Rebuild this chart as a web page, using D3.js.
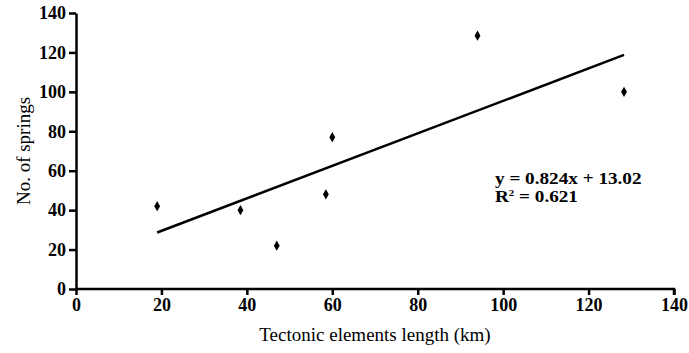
<!DOCTYPE html>
<html>
<head>
<meta charset="utf-8">
<script src="https://cdn.jsdelivr.net/npm/d3@7"></script>
<style>
  body { margin: 0; background: #fff; }
  svg { display: block; }
  .tick text { font-family: "Liberation Serif", serif; font-weight: bold; font-size: 18px; }
</style>
</head>
<body>
<svg id="chart" width="689" height="353"></svg>
<script>
// values
const lengthKm = [19, 38.5, 47, 58.5, 60, 94, 128.3];
const springs  = [42, 40, 22, 48, 77, 128.5, 100];
const xTicks = [0, 20, 40, 60, 80, 100, 120, 140];
const yTicks = [0, 20, 40, 60, 80, 100, 120, 140];
const slope = 0.824, intercept = 13.02;
const eqLines = ["y = 0.824x + 13.02", "R² = 0.621"];

const svg = d3.select('#chart');
const margin = { left: 76, top: 13, right: 15, bottom: 64 };
const width = 689, height = 353;

const x = d3.scaleLinear().domain([0, 140]).range([margin.left, width - margin.right]);
const y = d3.scaleLinear().domain([0, 140]).range([height - margin.bottom, margin.top]);

const xAxis = svg.append('g')
    .attr('transform', `translate(0,${y(0)})`)
    .call(d3.axisBottom(x).tickValues(xTicks).tickSize(6).tickPadding(3).tickSizeOuter(6));
const yAxis = svg.append('g')
    .attr('transform', `translate(${x(0)},0)`)
    .call(d3.axisLeft(y).tickValues(yTicks).tickSize(7).tickPadding(3).tickSizeOuter(0));

for (let ax of [xAxis, yAxis]) {
    ax.select('.domain').attr('stroke', '#000').attr('stroke-width', 2.5);
    ax.selectAll('.tick line').attr('stroke', '#000').attr('stroke-width', 2.5);
    ax.selectAll('.tick text').attr('fill', '#000');
}
xAxis.select('.domain').attr('d', `M${x(0)},0H${x(140)}V6`);

// trend line over the range of the data
const [x0, x1] = d3.extent(lengthKm);
svg.append('line')
    .attr('x1', x(x0)).attr('y1', y(slope * x0 + intercept))
    .attr('x2', x(x1)).attr('y2', y(slope * x1 + intercept))
    .attr('stroke', '#000').attr('stroke-width', 2.5);

const sym = d3.symbol().type(d3.symbolDiamond).size(30);
svg.append('g').selectAll('path')
    .data(lengthKm.map((d, i) => [d, springs[i]]))
    .join('path')
    .attr('transform', d => `translate(${x(d[0])},${y(d[1])})`)
    .attr('d', sym)
    .attr('fill', '#000');

// equation, widened a little like the scan's glyphs
const eq = svg.append('g')
    .attr('transform', 'translate(495,0) scale(1.2,1)')
    .style('font-family', '"Liberation Serif", serif')
    .style('font-weight', 'bold')
    .style('font-size', '16px');
eq.append('text').attr('y', 184).text(eqLines[0]);
const r2 = eq.append('text').attr('y', 202);
r2.append('tspan').text('R');
r2.append('tspan').attr('dy', -6).style('font-size', '9px').text('2');
r2.append('tspan').attr('dy', 6).text(eqLines[1].slice(2));

// axis titles
svg.append('text')
    .attr('x', 375).attr('y', 341)
    .attr('text-anchor', 'middle')
    .style('font-family', '"Liberation Serif", serif')
    .style('font-size', '19px')
    .text('Tectonic elements length (km)');
svg.append('text')
    .attr('transform', `translate(30,${y(70)}) rotate(-90)`)
    .attr('text-anchor', 'middle')
    .style('font-family', '"Liberation Serif", serif')
    .style('font-size', '19px')
    .text('No. of springs');
</script>
</body>
</html>
